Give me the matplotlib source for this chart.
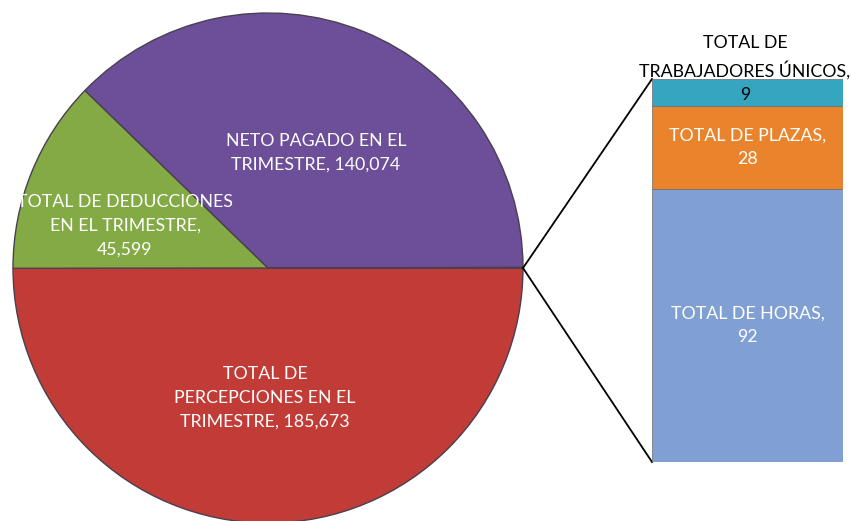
import matplotlib
matplotlib.use("Agg")
import matplotlib.pyplot as plt
import numpy as np

# ---- data ----
pie_labels = ["TOTAL DE\nPERCEPCIONES EN EL\nTRIMESTRE, 185,673",
              "TOTAL DE DEDUCCIONES\nEN EL TRIMESTRE,\n45,599",
              "NETO PAGADO EN EL\nTRIMESTRE, 140,074"]
pie_values = [185673, 45599, 140074]
bar_labels = ["TOTAL DE HORAS,\n92", "TOTAL DE PLAZAS,\n28", "TOTAL DE\nTRABAJADORES ÚNICOS,\n9"]
bar_values = [92, 28, 9]

pie_colors = ["#C13B37", "#83AA44", "#6C4E99", "#6C4E99"]
bar_colors = ["#809FD2", "#E9842C", "#36A6C0"]

W, H = 851, 521
fig = plt.figure(figsize=(W / 100, H / 100), dpi=100)
ax = fig.add_axes([0, 0, 1, 1])

cx, cy, r = 268, H - 268, 255
vals = pie_values + [sum(bar_values)]
wedges, _ = ax.pie(vals, startangle=0, counterclock=False, center=(cx, cy),
                   radius=r, colors=pie_colors, frame=True,
                   wedgeprops=dict(linewidth=1.0, edgecolor="#4a4050"))
ax.set_xlim(0, W)
ax.set_ylim(0, H)
ax.set_aspect("equal")
ax.axis("off")

font = "Lato"
fs = 12.8
ls = 1.62
ax.text(265, H - 398, pie_labels[0], ha="center", va="center", color="white",
        fontsize=fs, family=font, linespacing=ls)
ax.text(125, H - 226, pie_labels[1], ha="center", va="center", color="white",
        fontsize=fs, family=font, linespacing=ls)
ax.text(316, H - 153, pie_labels[2], ha="center", va="center", color="white",
        fontsize=fs, family=font, linespacing=ls)

# bar of pie
bx0, bx1, by0, by1 = 652, 843, 79, 462
bax = fig.add_axes([bx0 / W, (H - by1) / H, (bx1 - bx0) / W, (by1 - by0) / H])
bottoms = np.concatenate([[0], np.cumsum(bar_values)[:-1]])
bax.bar([0] * len(bar_values), bar_values, bottom=bottoms, width=1.0,
        color=bar_colors, edgecolor="#6a6a6a", linewidth=0.5)
bax.set_xlim(-0.5, 0.5)
bax.set_ylim(0, sum(bar_values))
bax.axis("off")

bax.text(0, bottoms[0] + bar_values[0] / 2, bar_labels[0], ha="center", va="center",
         color="white", fontsize=fs, family=font, linespacing=ls)
bax.text(0, bottoms[1] + bar_values[1] / 2, bar_labels[1], ha="center", va="center",
         color="white", fontsize=fs, family=font, linespacing=ls)
fig.text(745 / W, 1 - 69 / H, bar_labels[2], ha="center", va="center", color="black",
         fontsize=fs, family=font, linespacing=ls, zorder=10)

# connector lines
ax.plot([cx + r, bx0], [cy, H - by0], color="black", lw=1.3)
ax.plot([cx + r, bx0], [cy, H - by1], color="black", lw=1.3)

fig.savefig("out.png", dpi=100)
